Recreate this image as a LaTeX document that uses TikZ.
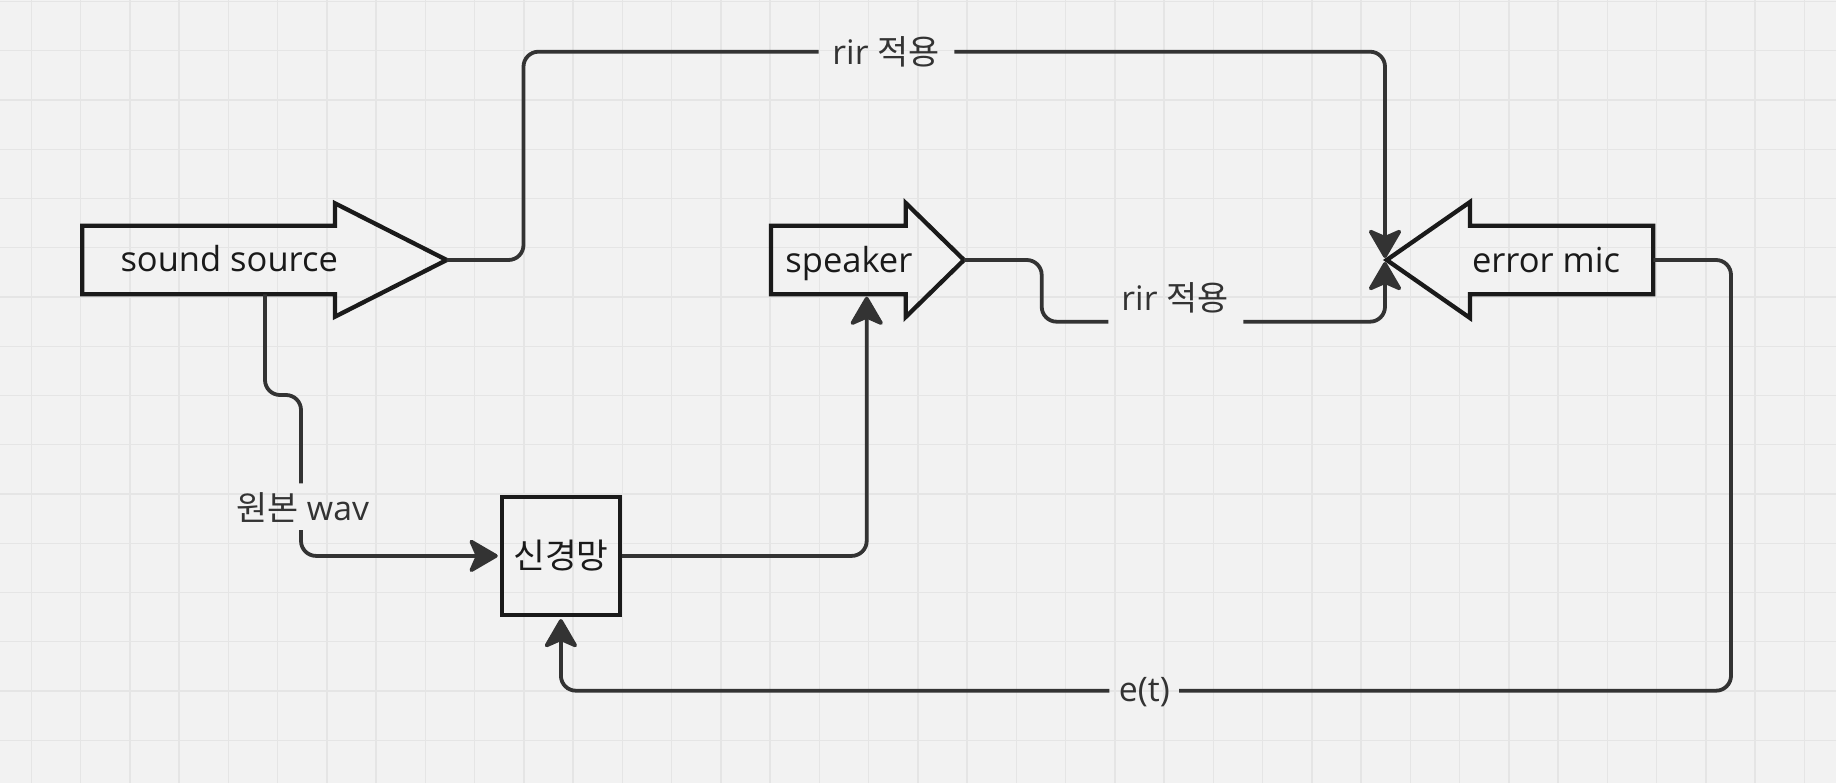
\documentclass[tikz,border=0pt]{standalone}
\usepackage{fontspec}
\setmainfont{Open Sans}
\newfontfamily\kr{Noto Sans CJK KR}
\usetikzlibrary{arrows.meta}
\definecolor{bg}{HTML}{F2F2F2}
\definecolor{gridc}{HTML}{E5E5E5}
\definecolor{shp}{HTML}{1A1A1A}
\definecolor{cn}{HTML}{333333}
\tikzset{
  shapeline/.style={draw=shp, line width=4.3pt, line join=miter},
  conn/.style={draw=cn, line width=3.8pt, rounded corners=15pt},
  arr/.style={-{Stealth[length=32pt,width=37pt,inset=8pt,round]}},
  shapetext/.style={text=shp, inner sep=0pt, font=\fontsize{34.5pt}{40pt}\selectfont},
  lbl/.style={text=cn, inner sep=0pt, font=\fontsize{33.8pt}{40pt}\selectfont},
  gridline/.style={draw=gridc, line width=1.4pt}
}
\begin{document}
\begin{tikzpicture}[x=1pt,y=-1pt]
\fill[bg] (0,0) rectangle (1836,783);
\useasboundingbox (0,0) rectangle (1836,783);
\foreach \i in {0,...,36} \draw[gridline] ({31.3+49.25*\i},0) -- ++(0,783);
\foreach \j in {0,...,15} \draw[gridline] (0,{1.5+49.25*\j}) -- ++(1836,0);

% sound source arrow
\draw[shapeline] (82.3,225.7) -- (335,225.7) -- (335,203.3) -- (446.7,260) -- (335,316.7) -- (335,294.3) -- (82.3,294.3) -- cycle;
\coordinate (ssTip) at (446.7,260);
\coordinate (ssBot) at (265,294.3);
\node[shapetext, anchor=base] (ssT) at (229.2,272) {sound source};

% speaker arrow
\draw[shapeline] (771,225.7) -- (905.7,225.7) -- (905.7,203) -- (964,260) -- (905.7,317) -- (905.7,294.3) -- (771,294.3) -- cycle;
\coordinate (spTip) at (964,260);
\coordinate (spIn) at (866.7,296.7);
\node[shapetext, anchor=base] (spT) at (848.9,273) {speaker};

% error mic arrow
\draw[shapeline] (1653.3,225.7) -- (1470,225.7) -- (1470,202) -- (1386.7,260) -- (1470,318) -- (1470,294.3) -- (1653.3,294.3) -- cycle;
\coordinate (micR) at (1653.3,260);
\coordinate (micTop) at (1385,258);
\coordinate (micBot) at (1385,262);
\node[shapetext, anchor=base] (micT) at (1546,272.3) {error mic};

% network box
\node[draw=shp, line width=4.3pt, minimum size=118pt, inner sep=0pt, text=shp,
      font=\fontsize{34.5pt}{40pt}\selectfont] (nn) at (560.9,555.9) {\kr 신경망};

% labels
\node[lbl, anchor=base] (r1) at (886,65) {rir {\kr 적용}};
\node[lbl, anchor=base] (r2) at (1175,310.7) {rir {\kr 적용}};
\node[lbl, anchor=base] (et) at (1144.4,701.6) {e(t)};
\node[lbl, anchor=base] (wv) at (302.5,520) {{\kr 원본} wav};

% gap ends
\coordinate (r1a) at (818.6,51.7);
\coordinate (r1b) at (954.3,51.7);
\coordinate (r2a) at (1108.3,321.7);
\coordinate (r2b) at (1243.3,321.7);
\coordinate (e1a) at (1109.3,690.7);
\coordinate (e1b) at (1179,690.7);
\coordinate (w1a) at (301,483.3);
\coordinate (w1b) at (301,530);

% connectors
\draw[conn] (ssTip) -- (523.5,260) -- (523.5,51.7) -- (r1a);
\draw[conn, arr] (r1b) -- (1385,51.7) -- (micTop);

\draw[conn] (spTip) -- (1041.7,260) -- (1041.7,321.7) -- (r2a);
\draw[conn, arr] (r2b) -- (1385,321.7) -- (micBot);

\draw[conn] (micR) -- (1731,260) -- (1731,690.7) -- (e1b);
\draw[conn, arr] (e1a) -- (560.9,690.7) -- ([yshift=-2pt]nn.south);

\draw[conn] (ssBot) -- (265,395) -- (301,395) -- (w1a);
\draw[conn, arr] (w1b) -- (301,555.9) -- ([xshift=-2pt]nn.west);

\draw[conn, arr] (nn.east) -- (866.7,555.9) -- (spIn);
\end{tikzpicture}
\end{document}
